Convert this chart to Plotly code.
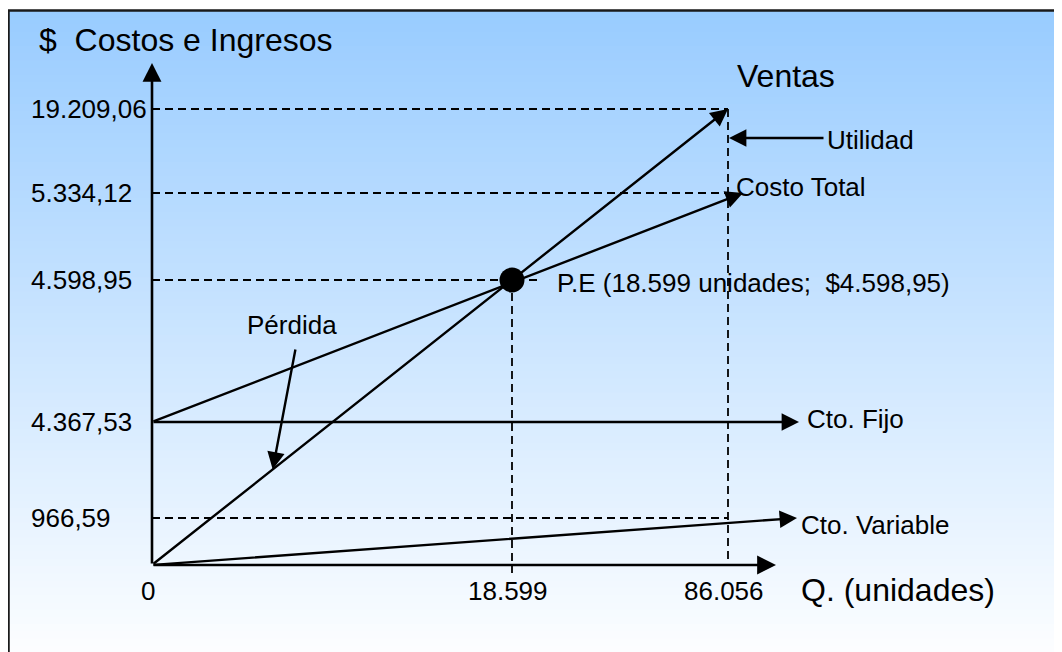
import numpy as np
import plotly.graph_objects as go

# values printed on the chart
q_labels = ["0", "18.599", "86.056"]
q_values = [0, 18599, 86056]
money_labels = ["0", "966,59", "4.367,53", "4.598,95", "5.334,12", "19.209,06"]
money_values = [0, 966.59, 4367.53, 4598.95, 5334.12, 19209.06]

fixed_cost = 4367.53
variable_cost = 966.59     # at 86.056 units
total_cost = 5334.12       # at 86.056 units
sales = 19209.06           # at 86.056 units
pe_q = 18599
pe_money = 4598.95
q_max = 86056

# the original is a sketch, not to scale: every labelled value has its own spot
q_steps = [0, 360, 576]
money_steps = [0, 47, 143, 285, 372, 456]


def qx(q):
    return float(np.interp(q, q_values, q_steps))


def my(m):
    return float(np.interp(m, money_values, money_steps))


W, H = 1062, 652
FONT = "Liberation Sans, Arial, sans-serif"
# the page body adds an 8px margin, so the origin sits at (144, 557) in the figure
OX, OY = 144, 557

fig = go.Figure()

# background: light blue to white gradient inside a frame
top, n = 2, 90
c0, c1 = np.array([153, 204, 255]), np.array([253, 254, 255])
for i in range(n):
    t = i / (n - 1)
    c = (c0 + (c1 - c0) * t).round().astype(int)
    y_hi = top + (H - top) * i / n
    y_lo = top + (H - top) * (i + 1) / n + 1
    fig.add_shape(type="rect", xref="paper", yref="paper", layer="below",
                  x0=0, x1=1.01, y0=1 - y_lo / H, y1=1 - y_hi / H,
                  line=dict(width=0), fillcolor=f"rgb({c[0]},{c[1]},{c[2]})")
fig.add_shape(type="rect", xref="paper", yref="paper", layer="below",
              x0=0.5 / W, x1=1.01, y0=-0.01, y1=1 - 2.5 / H,
              line=dict(color="#1a1a1a", width=2.5), fillcolor="rgba(0,0,0,0)")

dash = "8px,5px"


def dashed(xs, ys):
    fig.add_trace(go.Scatter(x=xs, y=ys, mode="lines", hoverinfo="skip",
                             line=dict(color="black", width=1.8, dash=dash)))


# guide lines
for m in [sales, total_cost, variable_cost]:
    dashed([0, qx(q_max)], [my(m), my(m)])
dashed([0, qx(pe_q) + 25], [my(pe_money), my(pe_money)])
dashed([qx(pe_q), qx(pe_q)], [my(pe_money), -8])
dashed([qx(q_max), qx(q_max)], [my(sales), 0])


def arrow(x0, y0, x1, y1, width=2.4):
    fig.add_annotation(x=x1, y=y1, ax=x0, ay=y0, xref="x", yref="y",
                       axref="x", ayref="y", text="", showarrow=True,
                       arrowhead=2, arrowsize=1.45, arrowwidth=width,
                       arrowcolor="black")


def label(x, y, text, size=26, anchor="left"):
    fig.add_annotation(x=x, y=y, xref="x", yref="y", text=text, showarrow=False,
                       xanchor=anchor, yanchor="middle",
                       font=dict(family=FONT, size=size, color="black"))


# axes
arrow(0, 0, 0, 502, width=2.6)
arrow(0, 0, 624, 0, width=2.6)

# lines
arrow(0, 0, qx(q_max), my(sales))                       # ventas
arrow(0, my(fixed_cost), qx(q_max) + 15, my(total_cost))  # costo total
arrow(0, my(fixed_cost), qx(q_max) + 71, my(fixed_cost))  # costo fijo
arrow(0, 0, qx(q_max) + 69, my(variable_cost))          # costo variable
arrow(673, 427, qx(q_max) + 1, 427)                     # utilidad
arrow(143.7, 217, 120.7, 95.6)                          # perdida

# break-even point
fig.add_trace(go.Scatter(x=[qx(pe_q)], y=[my(pe_money)], mode="markers",
                         hoverinfo="skip", marker=dict(color="black", size=25)))

# tick labels
for lab, v in zip(money_labels[1:], money_values[1:]):
    label(-123, my(v), lab)
for lab, v in zip(q_labels, q_values):
    label(qx(v) - 4, -26, lab, anchor="center")

# texts
label(-115, 525, "$\u00a0 Costos e Ingresos", size=32)
label(583, 489, "Ventas", size=32)
label(647, -25, "Q. (unidades)", size=32)
label(673, 425, "Utilidad")
label(582, 378, "Costo Total")
label(403, 282, "P.E (18.599 unidades;\u00a0 $4.598,95)")
label(140, 240, "Pérdida", anchor="center")
label(653, 146, "Cto. Fijo")
label(647, 40, "Cto. Variable")

fig.update_layout(
    width=W, height=H, autosize=False,
    margin=dict(l=0, r=0, t=0, b=0),
    paper_bgcolor="white", plot_bgcolor="rgba(0,0,0,0)",
    showlegend=False,
    xaxis=dict(range=[-OX, W - OX], visible=False, fixedrange=True),
    yaxis=dict(range=[-(H - OY), OY], visible=False, fixedrange=True),
)

fig.write_html("out.html")
